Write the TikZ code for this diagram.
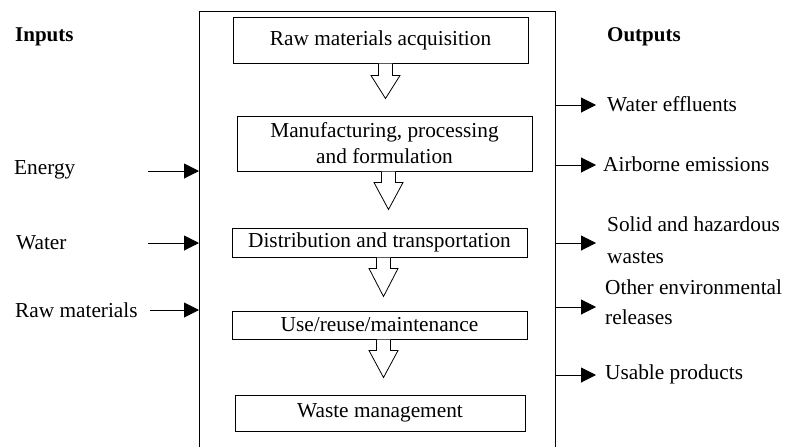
\documentclass[tikz,border=0pt]{standalone}
\usepackage{fontspec}
\setmainfont{Liberation Serif}
\usetikzlibrary{arrows.meta,calc}
\newcommand\harrow[4]{\draw[hol] ($(#1.south)+(#2-7,0)$) -- ++(0,#3) -- ++(-7.5,0) -- ++(14.5,#4) -- ++(14.5,-#4) -- ++(-7.5,0) -- ++(0,-#3);}
\begin{document}
\begin{tikzpicture}[x=1pt,y=-1pt,font=\fontsize{21.3}{26}\selectfont,
  box/.style={draw,line width=1pt,inner sep=0pt,align=center},
  lab/.style={anchor=west,inner sep=0pt,align=left},
  flowarr/.style={-{Triangle[length=15pt,width=15pt]},line width=1pt},
  hol/.style={draw,fill=white,line width=0.8pt,line join=miter}]
\useasboundingbox (0,0) rectangle (786,447);
% outer frame
\draw[line width=1pt] (199,447) -- (199,11) -- (555,11) -- (555,447);
% headings
\node[lab,font=\fontsize{21}{24}\selectfont\bfseries] (hin) at (15,37) {Inputs};
\node[lab,font=\fontsize{21}{24}\selectfont\bfseries] (hout) at (607,37) {Outputs};
% stage boxes
\node[box,minimum width=295pt,minimum height=46pt] (b1) at (380.5,40) {Raw materials acquisition};
\node[box,minimum width=295pt,minimum height=55pt] (b2) at (384.5,143.5) {Manufacturing, processing\\and formulation};
\node[box,minimum width=295pt,minimum height=29pt] (b3) at (379.5,242.5) {Distribution and transportation};
\node[box,minimum width=295pt,minimum height=28pt] (b4) at (379.5,325) {Use/reuse/maintenance};
\node[box,minimum width=290pt,minimum height=36pt] (b5) at (380,413) {Waste management};
% hollow arrows
\harrow{b1}{5}{12}{23}
\harrow{b2}{4}{11}{27}
\harrow{b3}{4}{11}{28}
\harrow{b4}{4}{11}{27}
% inputs
\node[lab] (iE) at (14,170) {Energy};
\node[lab] (iW) at (16,243) {Water};
\node[lab] (iR) at (15,310) {Raw materials};
\coordinate (sE) at (148,171); \coordinate (eE) at (199,171);
\coordinate (sW) at (148,243); \coordinate (eW) at (199,243);
\coordinate (sR) at (150,310); \coordinate (eR) at (199,310);
\draw[flowarr] (sE) -- (eE);
\draw[flowarr] (sW) -- (eW);
\draw[flowarr] (sR) -- (eR);
% outputs
\coordinate (o1) at (555,105); \coordinate (p1) at (596,105);
\coordinate (o2) at (555,165); \coordinate (p2) at (596,165);
\coordinate (o3) at (555,243); \coordinate (p3) at (596,243);
\coordinate (o4) at (555,307); \coordinate (p4) at (596,307);
\coordinate (o5) at (555,375); \coordinate (p5) at (596,375);
\foreach \i in {1,...,5} {\draw[flowarr] (o\i) -- (p\i);}
\node[lab] (w1) at (607,104) {Water effluents};
\node[lab] (w2) at (603,164) {Airborne emissions};
\node[lab,font=\fontsize{21.3}{32}\selectfont] (w3) at (607,240) {Solid and hazardous\\wastes};
\node[lab,font=\fontsize{21.3}{30}\selectfont] (w4) at (605,302) {Other environmental\\releases};
\node[lab] (w5) at (605,374) {Usable products};
\end{tikzpicture}
\end{document}
